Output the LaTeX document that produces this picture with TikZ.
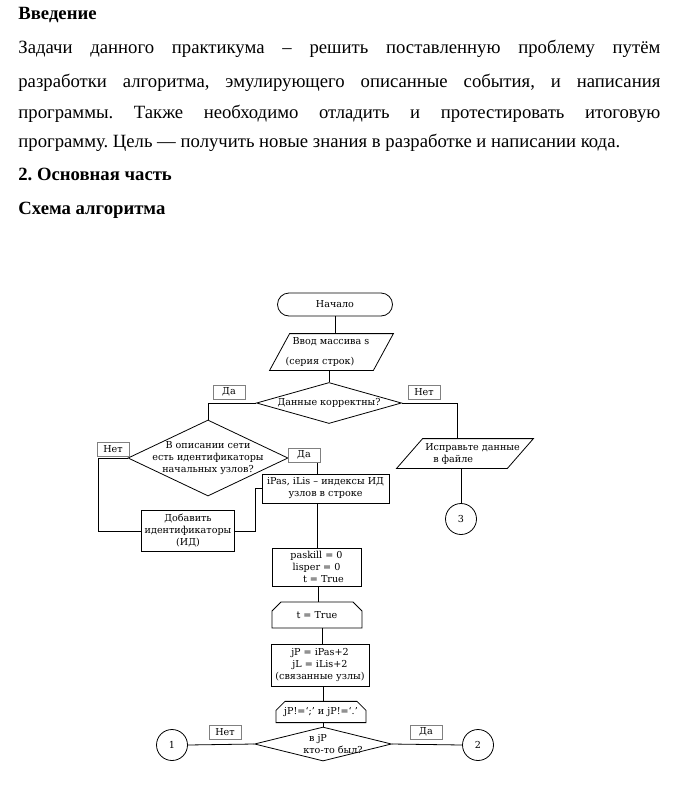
\documentclass[tikz,border=0pt]{standalone}
\usepackage{fontspec}
\setmainfont{Liberation Serif}
\newfontfamily\chartfont{DejaVu Serif}
\usetikzlibrary{shapes.geometric,shapes.misc}
\frenchspacing

\begin{document}
\begin{tikzpicture}[x=1pt, y=-1pt, line width=0.8pt,
  every node/.style = {font=\chartfont\fontsize{9.6pt}{12pt}\selectfont},
  txt/.style = {anchor=base west, inner sep=0pt, font=\fontsize{18.7pt}{22pt}\selectfont},
  head/.style = {txt, font=\bfseries\fontsize{18.7pt}{22pt}\selectfont},
  term/.style = {draw, rounded corners=11.5pt, minimum width=115pt, minimum height=23pt},
  io/.style = {inner sep=0pt},
  proc/.style = {draw, align=center, inner sep=1pt},
  cond/.style = {draw, diamond, inner sep=0pt},
  loopbox/.style = {draw, chamfered rectangle, chamfered rectangle corners={north west,north east},
    chamfered rectangle xsep=4pt, chamfered rectangle ysep=5pt, inner sep=1pt},
  lab/.style = {draw=gray, fill=white, inner sep=0pt, minimum width=32pt, minimum height=14pt},
  conn/.style = {draw, circle, inner sep=0pt, minimum size=31pt}]
\useasboundingbox (0,0) rectangle (692,808);
% text above the chart
\node[head] (intro) at (18,20) {Введение};
\node[txt] (par1) at (18,54) {\makebox[642pt][s]{Задачи данного практикума – решить поставленную проблему путём}};
\node[txt] (par2) at (18,87) {\makebox[642pt][s]{разработки алгоритма, эмулирующего описанные события, и написания}};
\node[txt] (par3) at (18,118) {\makebox[642pt][s]{программы. Также необходимо отладить и протестировать итоговую}};
\node[txt] (par4) at (18,147) {программу. Цель — получить новые знания в разработке и написании кода.};
\node[head] (main) at (18,180) {2. Основная часть};
\node[head] (scheme) at (18,214) {Схема алгоритма};
% chart
\node[term] (start) at (335,304.5) {Начало};
\node[io, minimum width=123pt, minimum height=36pt,
  label={[align=left, xshift=-4pt]center:\hspace*{7pt}Ввод массива s\\[8pt](серия строк)}] (in1) at (331.5,352) {};
\draw ([xshift=20pt]in1.north west) -- (in1.north east) -- ([xshift=-20pt]in1.south east) -- (in1.south west) -- cycle;
\node[cond, minimum width=145pt, minimum height=41pt, label=center:Данные корректны?] (check) at (329,403) {};
\node[cond, minimum width=160pt, minimum height=76pt,
  label={[align=center]center:В описании сети\\есть идентификаторы\\начальных узлов?}] (ids) at (208,458) {};
\node[io, minimum width=136pt, minimum height=29pt,
  label={[align=left, xshift=7.5pt]center:Исправьте данные\\\hspace*{8pt}в файле}] (fix) at (465,453.5) {};
\draw ([xshift=26pt]fix.north west) -- (fix.north east) -- ([xshift=-26pt]fix.south east) -- (fix.south west) -- cycle;
\node[conn] (c3) at (461,519) {3};
\node[proc, minimum width=127pt, minimum height=29pt] (ipas) at (325.5,488.5) {iPas, iLis – индексы ИД\\узлов в строке};
\node[proc, minimum width=93pt, minimum height=41pt] (add) at (188,531) {Добавить\\идентификаторы\\(ИД)};
\node[proc, minimum width=89pt, minimum height=38pt] (init) at (316.5,567) {paskill = 0\\lisper = 0\\\hspace*{14pt}t = True};
\node[loopbox, minimum width=90pt, minimum height=26pt] (loop1) at (317,615) {t = True};
\node[proc, minimum width=98pt, minimum height=42pt] (calc) at (320,665) {jP = iPas+2\\jL = iLis+2\\(связанные узлы)};
\node[loopbox, minimum width=90pt, minimum height=18pt] (loop2) at (321,712) {jP!=‘;’ и jP!=‘.’};
\node[cond, minimum width=137pt, minimum height=34pt,
  label={[align=center]center:в jP\hspace*{10pt}\\\hspace*{20pt}кто-то был?}] (who) at (323,744) {};
\node[conn] (c1) at (172,745) {1};
\node[conn] (c2) at (478,745) {2};
% connectors
\draw (start.south) -- (start |- in1.north);
\draw (check.north |- in1.south) -- (check.north);
\draw (check.west) -| (ids.north);
\draw (check.east) -| ([xshift=-8pt]fix.north);
\draw (c3.north |- fix.south) -- (c3.north);
\draw (ids.west) -- ++(-29pt,0) |- (add.west);
\draw (ids.east) -| ([xshift=-8pt]ipas.north);
\draw (add.east) -- ++(20pt,0) |- (ipas.west);
\draw ([xshift=-8pt]ipas.south) -- ([xshift=-8pt]ipas.south |- init.north);
\draw ([xshift=2pt]init.south) -- ([xshift=2pt]init.south |- loop1.north);
\draw ([xshift=5pt]loop1.south) -- ([xshift=5pt]loop1.south |- calc.north);
\draw ([xshift=3pt]calc.south) -- ([xshift=3pt]calc.south |- loop2.north);
\draw (who.north |- loop2.south) -- (who.north);
\draw (who.west) -- (c1.east);
\draw (who.east) -- (c2.west);
% branch labels
\node[lab] (yes1) at (229,392) {Да};
\node[lab] (no1) at (424,392) {Нет};
\node[lab] (no2) at (113,449) {Нет};
\node[lab] (yes2) at (304,455) {Да};
\node[lab] (no3) at (225,732) {Нет};
\node[lab] (yes3) at (426,732) {Да};
\end{tikzpicture}
\end{document}
